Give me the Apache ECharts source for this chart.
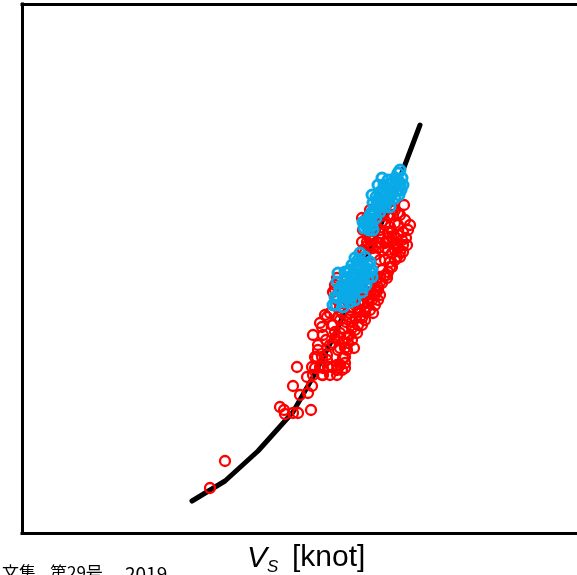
<!DOCTYPE html>
<html>
<head>
<meta charset="utf-8">
<script src="https://cdn.jsdelivr.net/npm/echarts@6/dist/echarts.min.js"></script>
<style>
  html, body { margin: 0; padding: 0; background: #fff; }
  #main { width: 577px; height: 575px; }
</style>
</head>
<body>
<div id="main"></div>
<script>
// 曲線 (計算値)
const curveVs = [6.80, 8.12, 9.44, 10.84, 11.64, 12.60, 13.92, 15.24, 15.92]
const curveY = [0.32, 0.52, 0.82, 1.21, 1.56, 2.03, 2.82, 3.63, 4.08]

// 実測 (赤)
const redPoints = [
  [7.52, 0.45], [8.12, 0.72], [10.32, 1.26], [10.48, 1.23], [10.52, 1.19], [10.84, 1.20],
  [11.04, 1.20], [11.56, 1.23], [11.12, 1.38], [11.44, 1.40], [10.84, 1.47], [11.60, 1.47],
  [11.40, 1.56], [11.64, 1.58], [11.00, 1.66], [11.60, 1.66], [12.04, 1.65], [11.72, 1.65],
  [12.40, 1.66], [12.64, 1.65], [12.92, 1.70], [12.80, 1.63], [12.04, 1.58], [12.32, 1.58],
  [12.60, 1.58], [12.00, 1.76], [11.80, 1.76], [12.20, 1.73], [12.60, 1.63], [12.24, 1.66],
  [12.72, 1.68], [12.92, 1.76], [13.00, 1.83], [12.64, 1.83], [12.44, 1.90], [12.84, 1.91],
  [11.64, 1.98], [11.84, 1.88], [12.00, 2.06], [12.20, 2.16], [12.44, 2.08], [11.92, 2.10],
  [12.72, 2.00], [13.00, 1.95], [12.84, 2.05], [13.40, 2.00], [13.44, 2.08], [13.52, 2.16],
  [13.12, 2.16], [12.80, 2.20], [13.80, 2.26], [14.00, 2.33], [14.04, 2.40], [14.24, 2.46],
  [14.04, 2.20], [13.72, 2.13], [13.24, 2.26], [12.92, 2.30], [13.04, 2.36], [13.40, 2.40],
  [13.64, 2.43], [12.72, 2.26], [12.60, 2.33], [13.80, 2.48], [14.32, 2.51], [12.12, 2.18],
  [12.40, 2.08], [12.04, 1.98], [12.52, 2.01], [13.04, 1.90], [12.72, 1.85], [11.84, 1.83],
  [11.72, 1.76], [12.20, 1.78], [12.84, 1.75], [12.60, 1.68], [12.92, 1.65], [11.92, 1.66],
  [12.00, 1.58], [12.32, 2.20], [12.64, 2.16], [12.52, 2.43], [12.72, 2.43], [12.60, 2.55],
  [12.52, 2.48], [13.92, 2.45], [14.32, 2.56], [13.92, 2.23], [14.24, 2.33], [13.80, 2.91],
  [13.92, 2.86], [14.24, 2.90], [14.60, 2.91], [15.00, 2.90], [15.20, 2.93], [14.80, 2.80],
  [14.52, 2.73], [15.00, 2.76], [14.72, 2.66], [14.40, 2.63], [14.60, 2.58], [15.12, 2.81],
  [15.24, 2.88], [13.72, 2.80], [14.00, 3.18], [14.64, 3.18], [15.04, 3.20], [14.92, 3.10],
  [15.32, 3.13], [15.24, 3.01], [15.04, 2.98], [15.44, 3.03], [14.64, 3.01], [14.32, 2.96],
  [14.04, 2.93], [14.52, 2.90], [14.92, 2.88], [15.40, 2.88], [14.24, 2.85], [14.64, 2.83],
  [15.24, 2.81], [13.60, 2.91], [13.60, 3.15], [13.92, 3.13], [14.80, 3.26], [13.64, 3.03],
  [15.04, 2.85], [15.12, 2.76], [14.92, 2.73], [14.80, 2.66], [14.64, 2.61], [14.60, 2.55],
  [14.40, 2.50], [14.24, 2.43], [14.12, 2.38], [13.92, 3.23], [13.80, 3.15], [13.84, 2.88],
  [13.64, 2.83], [14.04, 2.85], [14.32, 2.90], [14.72, 3.06], [14.84, 3.18], [14.44, 3.18],
  [12.44, 2.41], [13.32, 2.28], [13.60, 2.28], [13.44, 2.21], [13.72, 2.21], [13.20, 2.11],
  [13.60, 2.08], [13.32, 2.03], [13.12, 1.98], [13.60, 2.33], [13.84, 2.38], [14.12, 2.28],
  [14.12, 3.03], [14.32, 3.03], [14.80, 2.95], [13.92, 2.98], [15.28, 3.28],
  [13.12, 2.23], [13.36, 2.15], [13.60, 2.15], [13.84, 2.31], [13.20, 2.05], [12.96, 2.11],
  [12.72, 2.13], [12.52, 1.95], [12.92, 1.85], [13.20, 1.93], [13.52, 2.23], [13.92, 2.35],
  [14.16, 2.41], [14.32, 2.38], [13.76, 2.38], [13.96, 2.50], [14.16, 2.53], [14.48, 2.57],
  [14.72, 2.71], [14.92, 2.83], [14.52, 2.85], [14.12, 2.78], [14.32, 2.73], [13.92, 2.93],
  [14.52, 3.08], [14.80, 3.01], [15.04, 3.08], [15.12, 3.18], [14.12, 3.11], [14.40, 3.11],
  [14.64, 2.95], [14.96, 2.95], [15.36, 2.95], [15.52, 3.08], [14.92, 3.23], [14.52, 3.22],
  [12.32, 1.88], [12.16, 1.93], [12.64, 1.96], [13.28, 1.85]
]

// 実測 (青)
const bluePoints = [
  [15.04, 3.60], [15.20, 3.55], [14.92, 3.55], [15.12, 3.48], [14.80, 3.50], [15.00, 3.43],
  [14.64, 3.45], [14.48, 3.48], [14.84, 3.40], [14.56, 3.38], [14.32, 3.41], [14.68, 3.33],
  [14.40, 3.33], [14.16, 3.36], [14.52, 3.26], [14.24, 3.28], [14.04, 3.30], [14.32, 3.21],
  [14.08, 3.23], [13.92, 3.18], [14.16, 3.15], [13.84, 3.13], [13.72, 3.11], [14.00, 3.07],
  [13.68, 3.05], [13.88, 3.03], [14.92, 3.35], [14.72, 3.26], [15.08, 3.38], [15.24, 3.48],
  [14.40, 3.55], [14.24, 3.48], [14.00, 3.38], [13.64, 3.11], [13.80, 3.06], [14.04, 3.03],
  [14.96, 3.51], [14.72, 3.43], [14.48, 3.40], [14.28, 3.35], [14.56, 3.31], [14.32, 3.26],
  [14.12, 3.20], [13.96, 3.13], [14.88, 3.45], [15.16, 3.43], [14.64, 3.53], [15.12, 3.63],
  [14.92, 3.48], [14.72, 3.38], [14.44, 3.43], [14.20, 3.30], [14.44, 3.28], [14.00, 3.21],
  [13.84, 3.09], [15.04, 3.53],
  [13.52, 2.80], [13.72, 2.76], [13.32, 2.75], [13.60, 2.71], [13.92, 2.71], [13.20, 2.68],
  [13.44, 2.65], [13.76, 2.65], [14.00, 2.63], [13.04, 2.61], [13.32, 2.58], [13.60, 2.58],
  [13.84, 2.55], [12.92, 2.55], [13.20, 2.51], [13.52, 2.51], [13.76, 2.48], [12.80, 2.48],
  [13.04, 2.45], [13.36, 2.44], [13.60, 2.41], [12.72, 2.41], [12.96, 2.38], [13.20, 2.37],
  [12.64, 2.35], [12.88, 2.31], [13.12, 2.31], [12.56, 2.28], [12.84, 2.26], [13.32, 2.33],
  [14.00, 2.56], [12.64, 2.60], [12.92, 2.61], [12.60, 2.51], [12.52, 2.36], [12.44, 2.28],
  [12.72, 2.45], [13.44, 2.73], [13.12, 2.63], [13.52, 2.63], [13.28, 2.54], [13.64, 2.54],
  [13.12, 2.48], [13.44, 2.47], [12.92, 2.43], [13.28, 2.41], [13.04, 2.35], [13.92, 2.61],
  [13.84, 2.68], [13.40, 2.69], [13.68, 2.61], [13.16, 2.57], [13.40, 2.52], [12.92, 2.48],
  [13.20, 2.44], [12.84, 2.37], [13.60, 2.46]
]

const chart = echarts.init(document.getElementById('main'))

const frameLine = { show: true, onZero: false, lineStyle: { color: '#000', width: 3, cap: 'square' } }
const noMarks = {
  axisTick: { show: false },
  axisLabel: { show: false },
  splitLine: { show: false }
}

const optionData = {
  animation: false,
  backgroundColor: '#fff',
  grid: {
    left: 22,
    top: 4,
    right: 0,
    bottom: 42
  },
  xAxis: [
    { type: 'value', position: 'bottom', min: 0, max: 22.2, axisLine: frameLine, ...noMarks },
    { type: 'value', position: 'top', min: 0, max: 22.2, axisLine: frameLine, ...noMarks }
  ],
  yAxis: {
    type: 'value',
    min: 0,
    max: 5.29,
    axisLine: frameLine,
    ...noMarks
  },
  series: [
    {
      type: 'line',
      data: curveVs.map((v, i) => [v, curveY[i]]),
      showSymbol: false,
      lineStyle: { color: '#000', width: 5, cap: 'round', join: 'round' },
      z: 1
    },
    {
      type: 'scatter',
      data: redPoints,
      symbol: 'circle',
      symbolSize: 10,
      itemStyle: { color: 'rgba(0,0,0,0)', borderColor: '#ff0000', borderWidth: 2.3, opacity: 1 },
      z: 2
    },
    {
      type: 'scatter',
      data: bluePoints,
      symbol: 'circle',
      symbolSize: 10,
      itemStyle: { color: 'rgba(0,0,0,0)', borderColor: '#0aaae8', borderWidth: 3, opacity: 1 },
      z: 3
    }
  ],
  graphic: [
    { type: 'text', left: 247, top: 544, style: { text: 'V', font: 'italic 30px "Liberation Sans"', fill: '#000' } },
    { type: 'text', left: 267, top: 559, style: { text: 'S', font: 'italic 17px "Liberation Sans"', fill: '#000' } },
    { type: 'text', left: 292, top: 543, style: { text: '[knot]', font: '30px "Liberation Sans"', fill: '#000' } },
    { type: 'text', left: 2, top: 564, style: { text: '文集', font: '17px "Noto Sans CJK JP"', fill: '#000' } },
    { type: 'text', left: 50, top: 564, style: { text: '第29号', font: '17px "Noto Sans CJK JP"', fill: '#000' } },
    { type: 'text', left: 125, top: 564, style: { text: '2019', font: '19px "Noto Sans CJK JP"', fill: '#000' } }
  ]
}

chart.setOption(optionData)
</script>
</body>
</html>
